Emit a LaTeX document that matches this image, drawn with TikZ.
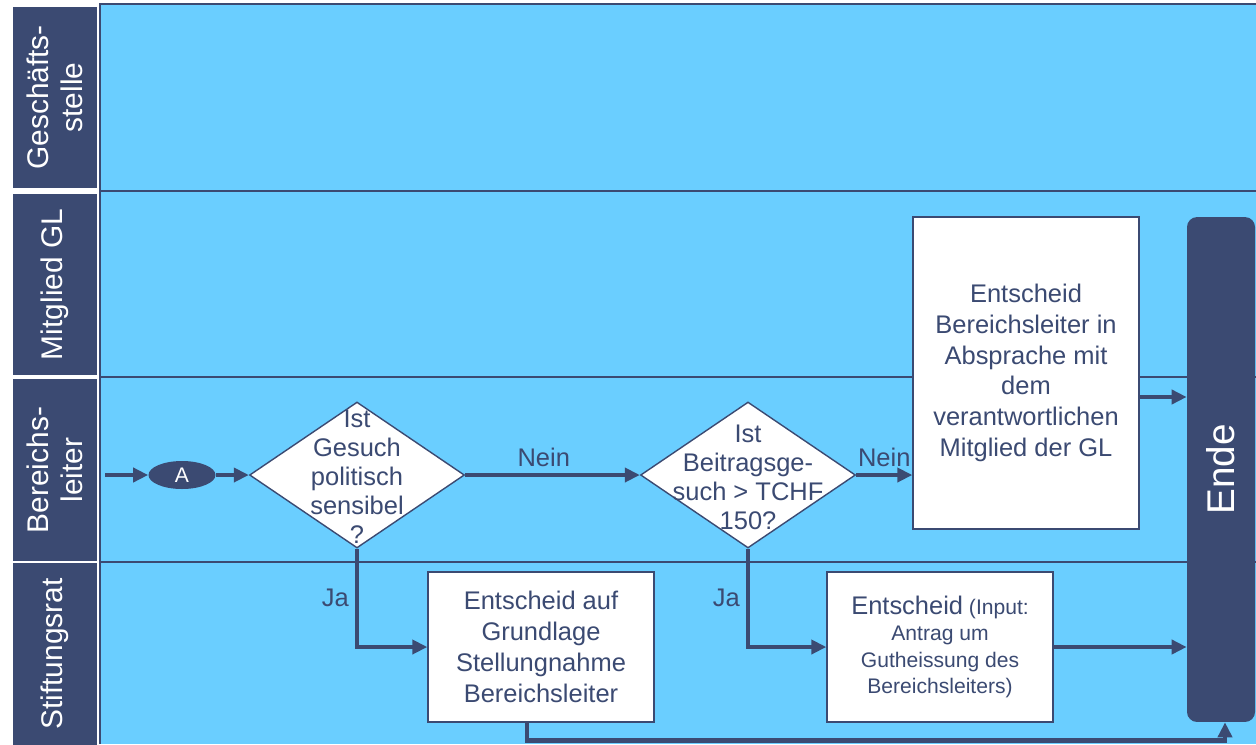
\documentclass[tikz,border=0pt]{standalone}
\usepackage{fontspec}
\setmainfont{Liberation Sans}
\usetikzlibrary{positioning,shapes.geometric,arrows.meta}
\definecolor{navy}{HTML}{3B4A72}
\definecolor{lanefill}{HTML}{6ACEFF}

\begin{document}
\begin{tikzpicture}[x=0.02cm, y=-0.02cm,
						lanehead/.style={rectangle, fill=navy, text=white, rotate=90, minimum width=3.64cm, minimum height=1.68cm, inner sep=0pt, align=center, font=\fontsize{17}{19}\selectfont},
						laneline/.style={draw=navy, line width=0.8pt},
						startev/.style={ellipse, fill=navy, text=white, minimum width=1.34cm, minimum height=0.56cm, inner sep=0pt, font=\fontsize{12}{14}\selectfont},
						decision/.style={diamond, draw=navy, fill=white, line width=0.8pt, minimum width=4.3cm, minimum height=2.92cm, inner sep=0pt},
						dtext/.style={align=center, text=navy, inner sep=0pt, font=\fontsize{14.5}{16.5}\selectfont},
						process/.style={rectangle, draw=navy, fill=white, line width=0.8pt, minimum width=4.52cm, minimum height=3cm, align=center, text=navy, font=\fontsize{14.5}{17.5}\selectfont},
						ende/.style={rectangle, rounded corners=0.2cm, fill=navy, text=white, rotate=90, minimum width=10.1cm, minimum height=1.36cm, font=\fontsize{22}{24}\selectfont},
						lbl/.style={text=navy, font=\fontsize{14.5}{17}\selectfont},
						flow/.style={draw=navy, line width=2.6pt, -{Triangle[length=0.3cm, width=0.28cm]}}
					]
					\useasboundingbox (0,0) rectangle (1256,744);
					\fill[white] (0,0) rectangle (1256,744);
					% lanes
					\fill[lanefill] (100,4) rectangle (1256,744);
					\draw[laneline] (100,744) -- (100,4) -- (1256,4);
					\foreach \y in {191,377,562}
						\draw[laneline] (100,\y) -- (1256,\y);
					\node[lanehead] (gs) at (55,97.5) {Geschäfts-\\stelle};
					\node[lanehead] (gl) at (55,284.5) {Mitglied GL};
					\node[lanehead] (bl) at (55,470) {Bereichs-\\leiter};
					\node[lanehead] (sr) at (55,654) {Stiftungsrat};
					% nodes
					\coordinate (in) at (105,475);
					\node[startev] (a) at (182,475) {A};
					\node[decision] (d1) at (357,475) {};
					\node[dtext] (d1t) at (357,477) {Ist\\Gesuch\\politisch\\sensibel\\?};
					\node[decision] (d2) at (748,475) {};
					\node[dtext] (d2t) at (748,477) {Ist\\Beitragsge-\\such > TCHF\\150?};
					\node[process, minimum height=6.24cm] (b3) at (1026,373) {Entscheid\\Bereichsleiter in\\Absprache mit\\dem\\verantwortlichen\\Mitglied der GL};
					\node[process] (b1) at (541,647) {Entscheid auf\\Grundlage\\Stellungnahme\\Bereichsleiter};
					\node[process, font=\fontsize{12}{15}\selectfont] (b2) at (940,647) {{\fontsize{14.5}{17.5}\selectfont Entscheid} (Input:\\Antrag um\\Gutheissung des\\Bereichsleiters)};
					% rotated: north is its left side, west its bottom
					\node[ende] (ende) at (1221,469.5) {Ende};
					% connectors
					\draw[flow] (in) -- (a);
					\draw[flow] (a) -- (d1);
					\draw[flow] (d1) -- node[lbl, above, pos=0.45] {Nein} (d2);
					\draw[flow] (d2) -- node[lbl, above] {Nein} (b3.west |- d2);
					\draw[flow] (d1.south) |- node[lbl, left, pos=0.25] {Ja} (b1.west);
					\draw[flow] (d2.south) |- node[lbl, left, pos=0.25] {Ja} (b2.west);
					\draw[flow] ([yshift=-0.48cm]b3.east) -- ([yshift=-0.48cm]b3.east -| ende.north);
					\draw[flow] (b2.east) -- (b2.east -| ende.north);
					\draw[flow] ([xshift=-0.28cm]b1.south) -- ++(0,18) -| ([xshift=0.08cm]ende.west);
					\end{tikzpicture}
\end{document}
